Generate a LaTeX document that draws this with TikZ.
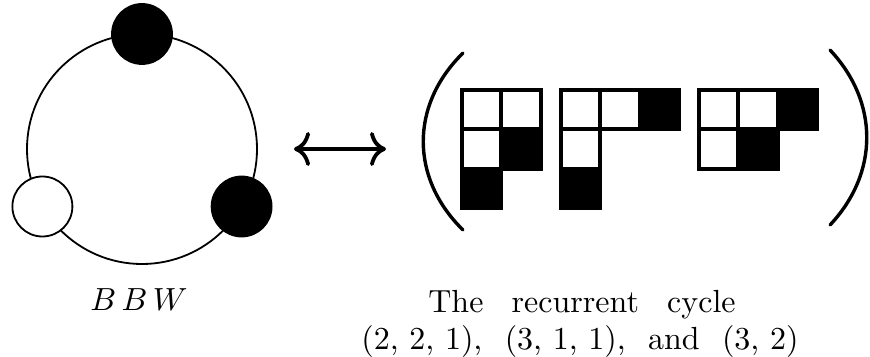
\documentclass[tikz,border=0pt]{standalone}
\usetikzlibrary{arrows.meta}
\newcommand\ycell[4]{\draw[#4] ({#1+#2*39.4},{90+#3*39.4}) rectangle ++(39.4,39.4);}
\newcommand\bigtxt[1]{\scalebox{1.6}{\fontsize{10}{12}\selectfont #1}}
\begin{document}
\begin{tikzpicture}[x=0.5pt,y=-0.5pt,
  ringstyle/.style={circle,draw,line width=0.9pt,minimum size=115pt,inner sep=0pt},
  blackball/.style={circle,draw,fill=black,line width=0.9pt,minimum size=30pt,inner sep=0pt},
  whiteball/.style={circle,draw,fill=white,line width=0.9pt,minimum size=30pt,inner sep=0pt},
  wcell/.style={draw=black,fill=white,line width=2pt},
  bcell/.style={draw=black,fill=black,line width=2pt},
  paren/.style={line width=1.7pt,line cap=round},
  dblarrow/.style={line width=1.9pt,{Computer Modern Rightarrow[length=8pt,width=17pt]}-{Computer Modern Rightarrow[length=8pt,width=17pt]}},
  txt/.style={inner sep=0pt,anchor=base}]
\useasboundingbox (0,0) rectangle (870,357);
% cycle
\node[ringstyle] (ring) at (142,149) {};
\node[blackball] (b1) at (142,34) {};
\node[blackball] (b2) at (241.6,206.5) {};
\node[whiteball] (w1) at (42.4,206.5) {};
\node[txt] (lab1) at (139,310) {\bigtxt{$B\,B\,W$}};
% arrow
\coordinate (al) at (294,149);
\coordinate (ar) at (386,149);
\draw[dblarrow] (al) -- (ar);
% parentheses
\coordinate (lp1) at (463,53);
\coordinate (lp2) at (463,230);
\coordinate (rp1) at (830,50);
\coordinate (rp2) at (830,225);
\draw[paren] (lp1) .. controls (410,105) and (410,178) .. (lp2);
\draw[paren] (rp1) .. controls (879,102) and (879,173) .. (rp2);
% diagram 1: (2,2,1)
\ycell{462}{0}{0}{wcell}
\ycell{462}{1}{0}{wcell}
\ycell{462}{0}{1}{wcell}
\ycell{462}{1}{1}{bcell}
\ycell{462}{0}{2}{bcell}
% diagram 2: (3,1,1)
\ycell{561}{0}{0}{wcell}
\ycell{561}{1}{0}{wcell}
\ycell{561}{2}{0}{bcell}
\ycell{561}{0}{1}{wcell}
\ycell{561}{0}{2}{bcell}
% diagram 3: (3,2)
\ycell{699}{0}{0}{wcell}
\ycell{699}{1}{0}{wcell}
\ycell{699}{2}{0}{bcell}
\ycell{699}{0}{1}{wcell}
\ycell{699}{1}{1}{bcell}
% caption
\node[txt] (cap1) at (582,312) {\bigtxt{The\hspace{0.88em}recurrent\hspace{0.88em}cycle}};
\node[txt] (cap2) at (580,349) {\bigtxt{(2, 2, 1),\hspace{0.7em}(3, 1, 1),\hspace{0.7em}and\hspace{0.7em}(3, 2)}};
\end{tikzpicture}
\end{document}
